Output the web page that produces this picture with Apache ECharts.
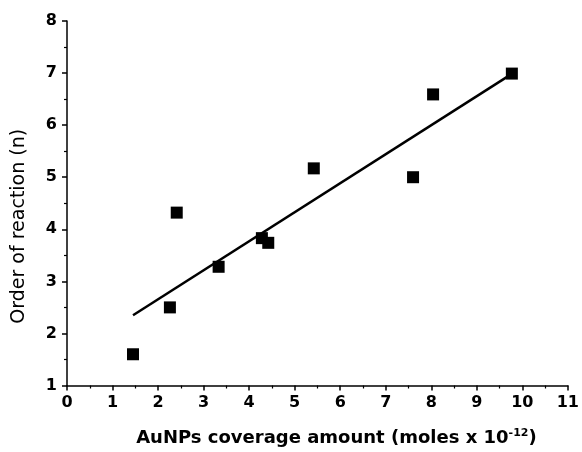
<!DOCTYPE html>
<html>
<head>
<meta charset="utf-8">
<script src="https://cdn.jsdelivr.net/npm/echarts@6/dist/echarts.min.js"></script>
<style>
  html, body { margin: 0; padding: 0; background: #fff; }
  #main { width: 582px; height: 452px; }
</style>
</head>
<body>
<div id="main"></div>
<script>
// coverage amount (moles x 10^-12) vs order of reaction
const coverage = [1.45, 2.26, 2.41, 3.33, 4.28, 4.42, 5.42, 7.60, 8.04, 9.77];
const order = [1.60, 2.50, 4.32, 3.28, 3.83, 3.74, 5.17, 5.00, 6.59, 6.99];
// linear fit endpoints
const fitX = [1.45, 9.76];
const fitY = [2.35, 6.98];

const points = coverage.map((x, i) => [x, order[i]]);
const fitLine = fitX.map((x, i) => [x, fitY[i]]);

const myChart = echarts.init(document.getElementById('main'));
const font = 'DejaVu Sans, sans-serif';
const option = {
  animation: false,
  grid: { left: 67, right: 13, top: 21, bottom: 59 },
  xAxis: {
    type: 'value',
    min: 0, max: 11, interval: 1,
    name: '{t|AuNPs coverage amount (moles x 10}{s|-12}{t|)}',
    nameLocation: 'middle',
    nameGap: 42,
    nameTextStyle: {
      padding: [0, 0, 0, 38],
      rich: {
        t: { fontFamily: font, fontWeight: 'bold', fontSize: 18, color: '#000' },
        s: { fontFamily: font, fontWeight: 'bold', fontSize: 11, color: '#000', verticalAlign: 'top', padding: [0, 0, 10, 0] }
      }
    },
    axisLine: { onZero: false, lineStyle: { color: '#000', width: 1.5 } },
    axisTick: { inside: false, length: 5, lineStyle: { color: '#000', width: 1.5 } },
    minorTick: { show: true, splitNumber: 2, length: 3, lineStyle: { color: '#000', width: 1.2 } },
    splitLine: { show: false },
    axisLabel: { color: '#000', fontFamily: font, fontWeight: 'bold', fontSize: 16, margin: 9 }
  },
  yAxis: {
    type: 'value',
    min: 1, max: 8, interval: 1,
    name: 'Order of reaction (n)',
    nameLocation: 'middle',
    nameGap: 38,
    nameTextStyle: { color: '#000', fontFamily: font, fontSize: 19, padding: [0, 46, 0, 0] },
    axisLine: { onZero: false, lineStyle: { color: '#000', width: 1.5 } },
    axisTick: { inside: false, length: 5, lineStyle: { color: '#000', width: 1.5 } },
    minorTick: { show: true, splitNumber: 2, length: 3, lineStyle: { color: '#000', width: 1.2 } },
    splitLine: { show: false },
    axisLabel: { color: '#000', fontFamily: font, fontWeight: 'bold', fontSize: 16, margin: 10 }
  },
  series: [
    {
      type: 'line',
      data: fitLine,
      symbol: 'none',
      lineStyle: { color: '#000', width: 2.5 },
      z: 2
    },
    {
      type: 'scatter',
      data: points,
      symbol: 'rect',
      symbolSize: 12,
      itemStyle: { color: '#000', opacity: 1 },
      z: 3
    }
  ]
};
myChart.setOption(option);
</script>
</body>
</html>
